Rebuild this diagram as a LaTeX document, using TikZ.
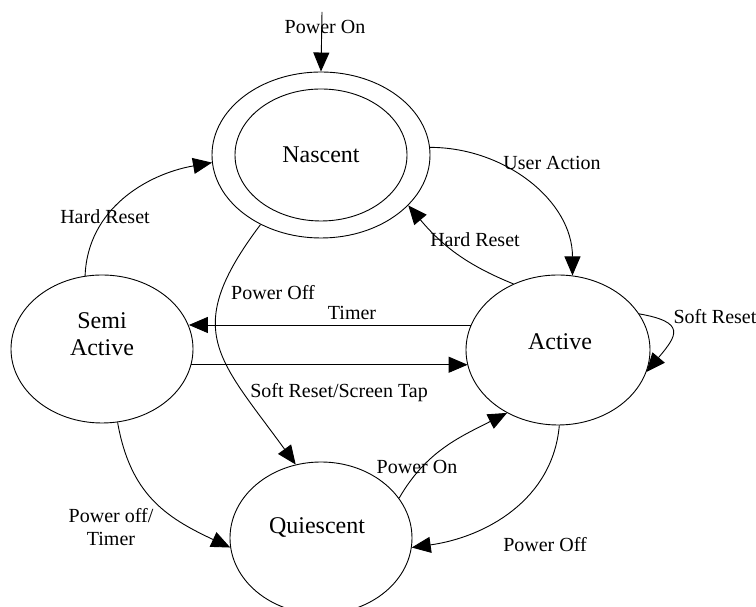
\documentclass[tikz,border=0pt]{standalone}
\usepackage{fontspec}
\setmainfont{Liberation Serif}
\usetikzlibrary{arrows.meta,shapes.geometric}
\begin{document}
\begin{tikzpicture}[x=1pt,y=1pt,
  state/.style={draw, ellipse, line width=0.9pt, inner sep=0pt},
  sfont/.style={font=\fontsize{24}{27}\selectfont},
  lfont/.style={font=\fontsize{20}{23}\selectfont, inner sep=0pt},
  arr/.style={draw, line width=0.9pt, -{Triangle[length=19pt,width=16pt]}}]
\useasboundingbox (0,0) rectangle (756,607);
% states
\node[state, minimum width=218pt, minimum height=166pt] (nas) at (321,452) {};
\node[state, minimum width=172pt, minimum height=132pt, sfont] (nasin) at (321,452) {Nascent};
\node[state, minimum width=182pt, minimum height=148pt,
  label={[sfont, align=center, yshift=15pt]center:Semi\\Active}] (semi) at (102,258) {};
\node[state, minimum width=184pt, minimum height=150pt,
  label={[sfont, xshift=2pt, yshift=8pt]center:Active}] (act) at (558,257) {};
\node[state, minimum width=182pt, minimum height=152pt,
  label={[sfont, xshift=-4pt, yshift=10pt]center:Quiescent}] (q) at (321,69) {};
% connectors
\coordinate (pwrtop) at (322,595);
\draw[arr] (pwrtop) -- (nas.north);
\draw[arr] (nas.4) to[out=0,in=90] (act.79);
\draw[arr] (act.124) to[out=158,in=-50] (nas.330);
\draw[arr] (semi.103) to[out=88,in=190] (nas.184);
\draw[arr] (act.164) -- (act.164 -| semi.15.6);
\draw[arr] (semi.-10.9) -- (semi.-10.9 -| act.190);
\draw[arr] (nas.229) to[out=233,in=126,looseness=1.4] (q.109);
\draw[arr] (semi.282) to[out=-80,in=155,looseness=1.1] (q.186);
\draw[arr] (q.27) to[out=60,in=207] (act.231);
\draw[arr] (act.271) to[out=265,in=8] (q.354);
\draw[arr] (act.24) to[out=-10,in=50,looseness=2.1] (act.-14);
% labels
\node[lfont] (lpwr) at (325,580) {Power On};
\node[lfont] (lua) at (552,444) {User Action};
\node[lfont] (lhr1) at (475,367) {Hard Reset};
\node[lfont] (lhr2) at (105,390) {Hard Reset};
\node[lfont] (ltimer) at (352,294) {Timer};
\node[lfont] (lsr) at (339,214) {Soft Reset/Screen Tap};
\node[lfont] (lpo1) at (273,314) {Power Off};
\node[lfont, align=center] (lpot) at (111,80) {Power off/\\Timer};
\node[lfont] (lpon) at (417,140) {Power On};
\node[lfont] (lpo2) at (545,62) {Power Off};
\node[lfont] (lsr2) at (715,290) {Soft Reset};
\end{tikzpicture}
\end{document}
